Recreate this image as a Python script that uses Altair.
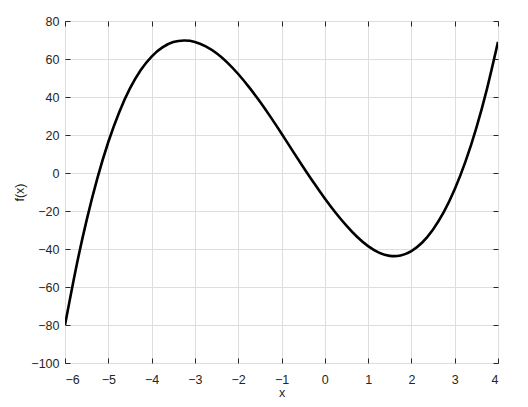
import altair as alt
import pandas as pd

# values
xs = [-6, -5.75, -5.5, -5.25, -5, -4.75, -4.5, -4.25, -4, -3.75, -3.5, -3.25, -3,
      -2.75, -2.5, -2.25, -2, -1.75, -1.5, -1.25, -1, -0.75, -0.5, -0.25, 0,
      0.25, 0.5, 0.75, 1, 1.25, 1.5, 1.75, 2, 2.25, 2.5, 2.75, 3, 3.25, 3.5, 3.75, 4]
ys = [-80.0, -50.6, -24.8, -2.6, 16.3, 31.9, 44.5, 54.2, 61.3, 66.1, 68.9, 69.7, 69.0,
      66.6, 63.0, 58.1, 52.1, 45.2, 37.6, 29.4, 20.8, 11.9, 3.2, -5.3, -13.4,
      -20.9, -27.7, -33.7, -38.5, -41.9, -43.6, -43.4, -41.1, -36.6, -29.7, -20.5,
      -8.6, 6.1, 23.8, 44.7, 69.0]

x_ticks = [-6, -5, -4, -3, -2, -1, 0, 1, 2, 3, 4]
y_ticks = [-100, -80, -60, -40, -20, 0, 20, 40, 60, 80]

df = pd.DataFrame({"x": xs, "y": ys})

FONT = "Liberation Sans"
DARK = "#262626"

xscale = alt.Scale(domain=[-6, 4], nice=False, zero=False)
yscale = alt.Scale(domain=[-100, 80], nice=False, zero=False)

main = alt.Chart(df).mark_line(color="black", strokeWidth=2.6, interpolate="natural", clip=True).encode(
    x=alt.X("x:Q", scale=xscale, title="x",
            axis=alt.Axis(values=x_ticks, grid=True, gridColor="#dedede", gridWidth=1,
                          domain=False, ticks=False, labelPadding=10, labelColor=DARK,
                          labelFont=FONT, labelFontSize=12.5, titleFont=FONT, titleFontSize=12.5,
                          titleFontWeight="normal", titleColor=DARK,
                          titleBaseline="alphabetic", titleY=33.5)),
    y=alt.Y("y:Q", scale=yscale, title="f(x)",
            axis=alt.Axis(values=y_ticks, grid=True, gridColor="#dedede", gridWidth=1,
                          domain=False, ticks=False, labelPadding=6, labelColor=DARK,
                          labelFont=FONT, labelFontSize=12.5, titleFont=FONT, titleFontSize=12.5,
                          titleFontWeight="normal", titleColor=DARK,
                          titleBaseline="middle", titleX=-46)),
)


def tick_layer(xorient, yorient):
    return alt.Chart(df).mark_line(opacity=0).encode(
        x=alt.X("x:Q", scale=xscale, title=None,
                axis=alt.Axis(orient=xorient, values=x_ticks, grid=False, domain=False,
                              labels=False, ticks=True, tickSize=5, tickColor=DARK,
                              offset=-5)),
        y=alt.Y("y:Q", scale=yscale, title=None,
                axis=alt.Axis(orient=yorient, values=y_ticks, grid=False, domain=False,
                              labels=False, ticks=True, tickSize=5, tickColor=DARK,
                              offset=-5)),
    )


chart = alt.layer(main, tick_layer("bottom", "left"), tick_layer("top", "right")).resolve_axis(
    x="independent", y="independent"
).properties(
    width=433, height=342,
    autosize=alt.AutoSizeParams(type="none"),
    padding={"left": 57, "top": 13, "right": 22, "bottom": 36},
    background="white",
).configure_view(stroke=DARK, strokeWidth=1)

chart.save("out.html", embed_options={"renderer": "svg", "actions": False})
